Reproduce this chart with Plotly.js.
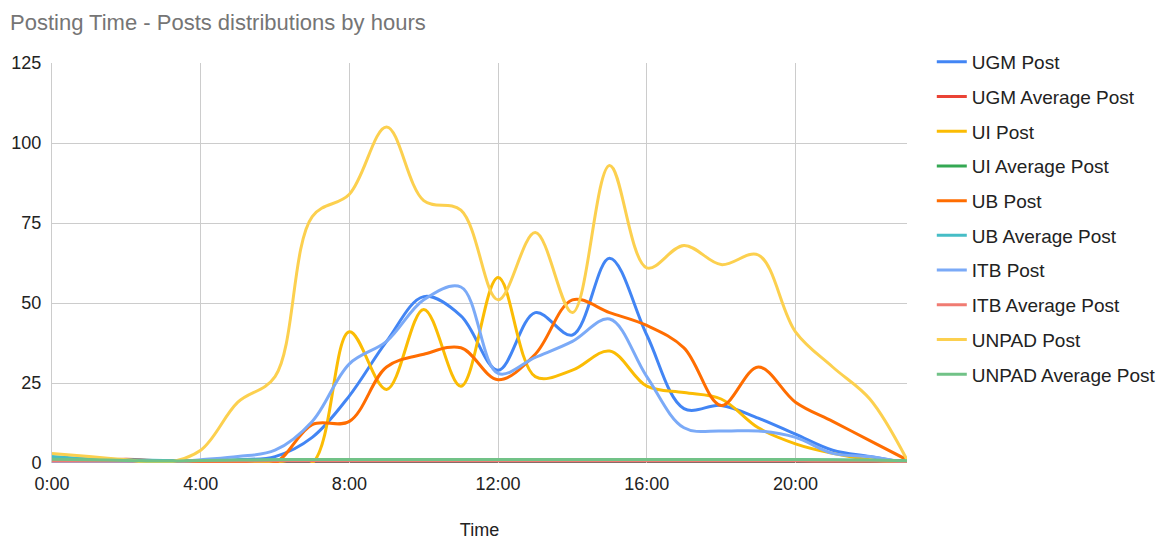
<!DOCTYPE html>
<html>
<head>
<meta charset="utf-8">
<script src="https://cdn.plot.ly/plotly-3.0.1.min.js"></script>
<style>html,body{margin:0;padding:0;background:#fff;}#chart{width:1165px;height:540px;}</style>
</head>
<body>
<div id="chart"></div>
<script>
const hours = [0,1,2,3,4,5,6,7,8,9,10,11,12,13,14,15,16,17,18,19,20,21,22,23];
const tickVals = [0,4,8,12,16,20];
const tickText = ["0:00","4:00","8:00","12:00","16:00","20:00"];

const ugmPost   = [0,0,0,0,0,1,2,8,21,38,52,46,29,47,40,64,40,17,18,14,9,4,2,0];
const ugmAvg    = [0.6,0.7,1.2,0.6,0.6,0.7,0.8,0.8,0.8,0.8,0.8,0.8,0.8,0.8,0.8,0.8,0.8,0.8,0.8,0.8,0.8,0.7,0.6,0.5];
const uiPost    = [0,0,0,0,0,0,0,0,41,23,48,24,58,27,29,35,24,22,20,11,6,3,1,0];
const uiAvg     = [0.8,0.7,0.6,0.5,0.6,0.7,0.8,0.9,0.9,0.9,0.9,0.9,0.9,0.9,0.9,0.9,0.9,0.9,0.9,0.9,0.9,0.8,0.7,0.6];
const ubPost    = [0,0,0,0,0,0,0,12,13,30,34,36,26,34,51,47,43,36,18,30,19,13,7,1];
const ubAvg     = [2.0,1.3,1.0,0.8,0.8,0.9,1.0,1.0,1.0,1.0,1.0,1.0,1.0,1.0,1.0,1.0,1.0,1.0,1.0,1.0,1.0,0.9,0.8,0.7];
const itbPost   = [0,0,0,0,1,2,4,13,31,38,51,55,28,33,38,45,27,11,10,10,8,3,2,0];
const itbAvg    = [0.6,0.6,0.6,0.5,0.6,0.6,0.7,0.7,0.7,0.7,0.7,0.7,0.7,0.7,0.7,0.7,0.7,0.7,0.7,0.7,0.7,0.6,0.6,0.5];
const unpadPost = [3,2,1,0,4,19,27,77,84,105,82,79,51,72,47,93,61,68,62,65,41,30,20,1];
const unpadAvg  = [1.2,1.0,0.8,0.6,0.8,0.9,1.0,1.1,1.1,1.1,1.1,1.1,1.1,1.1,1.1,1.1,1.1,1.1,1.1,1.1,1.1,1.0,0.9,0.7];

const seriesNames = ["UGM Post","UGM Average Post","UI Post","UI Average Post","UB Post","UB Average Post","ITB Post","ITB Average Post","UNPAD Post","UNPAD Average Post"];
const seriesData = [ugmPost,ugmAvg,uiPost,uiAvg,ubPost,ubAvg,itbPost,itbAvg,unpadPost,unpadAvg];
const colors = ["#4285F4","#EA4335","#FBBC04","#34A853","#FF6D01","#46BDC6","#7BAAF7","#F07B72","#FCD04F","#71C287"];

const traces = seriesNames.map((n,i)=>({
  x: hours, y: seriesData[i], name: n, type: "scatter", mode: "lines",
  line: {color: colors[i], width: 3, shape: "spline", smoothing: 1},
  legendgroup: "g"+i, hoverinfo: "skip"
}));

const FONT = "Liberation Sans, Arial, sans-serif";
const layout = {
  width: 1165, height: 540,
  margin: {l: 52, r: 258, t: 63, b: 77, autoexpand: false},
  paper_bgcolor: "#fff", plot_bgcolor: "#fff",
  font: {family: FONT, size: 18, color: "#222"},
  title: {text: "Posting Time - Posts distributions by hours", x: 10/1165, xanchor: "left", xref: "container",
          y: 1 - 22/540, yanchor: "middle", yref: "container",
          font: {size: 22, color: "#757575", family: FONT}},
  xaxis: {range: [0,23], tickvals: tickVals, ticktext: tickText, showgrid: true, gridcolor: "#cccccc", gridwidth: 1,
          zeroline: false, showline: false, ticks: "", ticklabelstandoff: 8, tickfont: {size: 18, color: "#222"},
          title: {text: "Time", font: {size: 18, color: "#222"}, standoff: 36}, automargin: false},
  yaxis: {range: [0,125], tickvals: [0,25,50,75,100,125], showgrid: true, gridcolor: "#cccccc", gridwidth: 1,
          zeroline: false, showline: true, linecolor: "#cccccc", mirror: false, ticks: "", ticklabelstandoff: 6,
          tickfont: {size: 18, color: "#222"}, automargin: false},
  shapes: [{type: "line", xref: "paper", yref: "y", x0: 0, x1: 1, y0: 0, y1: 0, line: {color: "#333", width: 1.5}, layer: "below"}],
  legend: {x: 1.029, xanchor: "left", y: 1.05, yanchor: "top", font: {size: 19, color: "#222"}, tracegroupgap: 7,
           bgcolor: "rgba(0,0,0,0)", itemwidth: 30, maxheight: 540},
  showlegend: true
};

Plotly.newPlot("chart", traces, layout, {displayModeBar: false, staticPlot: true});
</script>
</body>
</html>
